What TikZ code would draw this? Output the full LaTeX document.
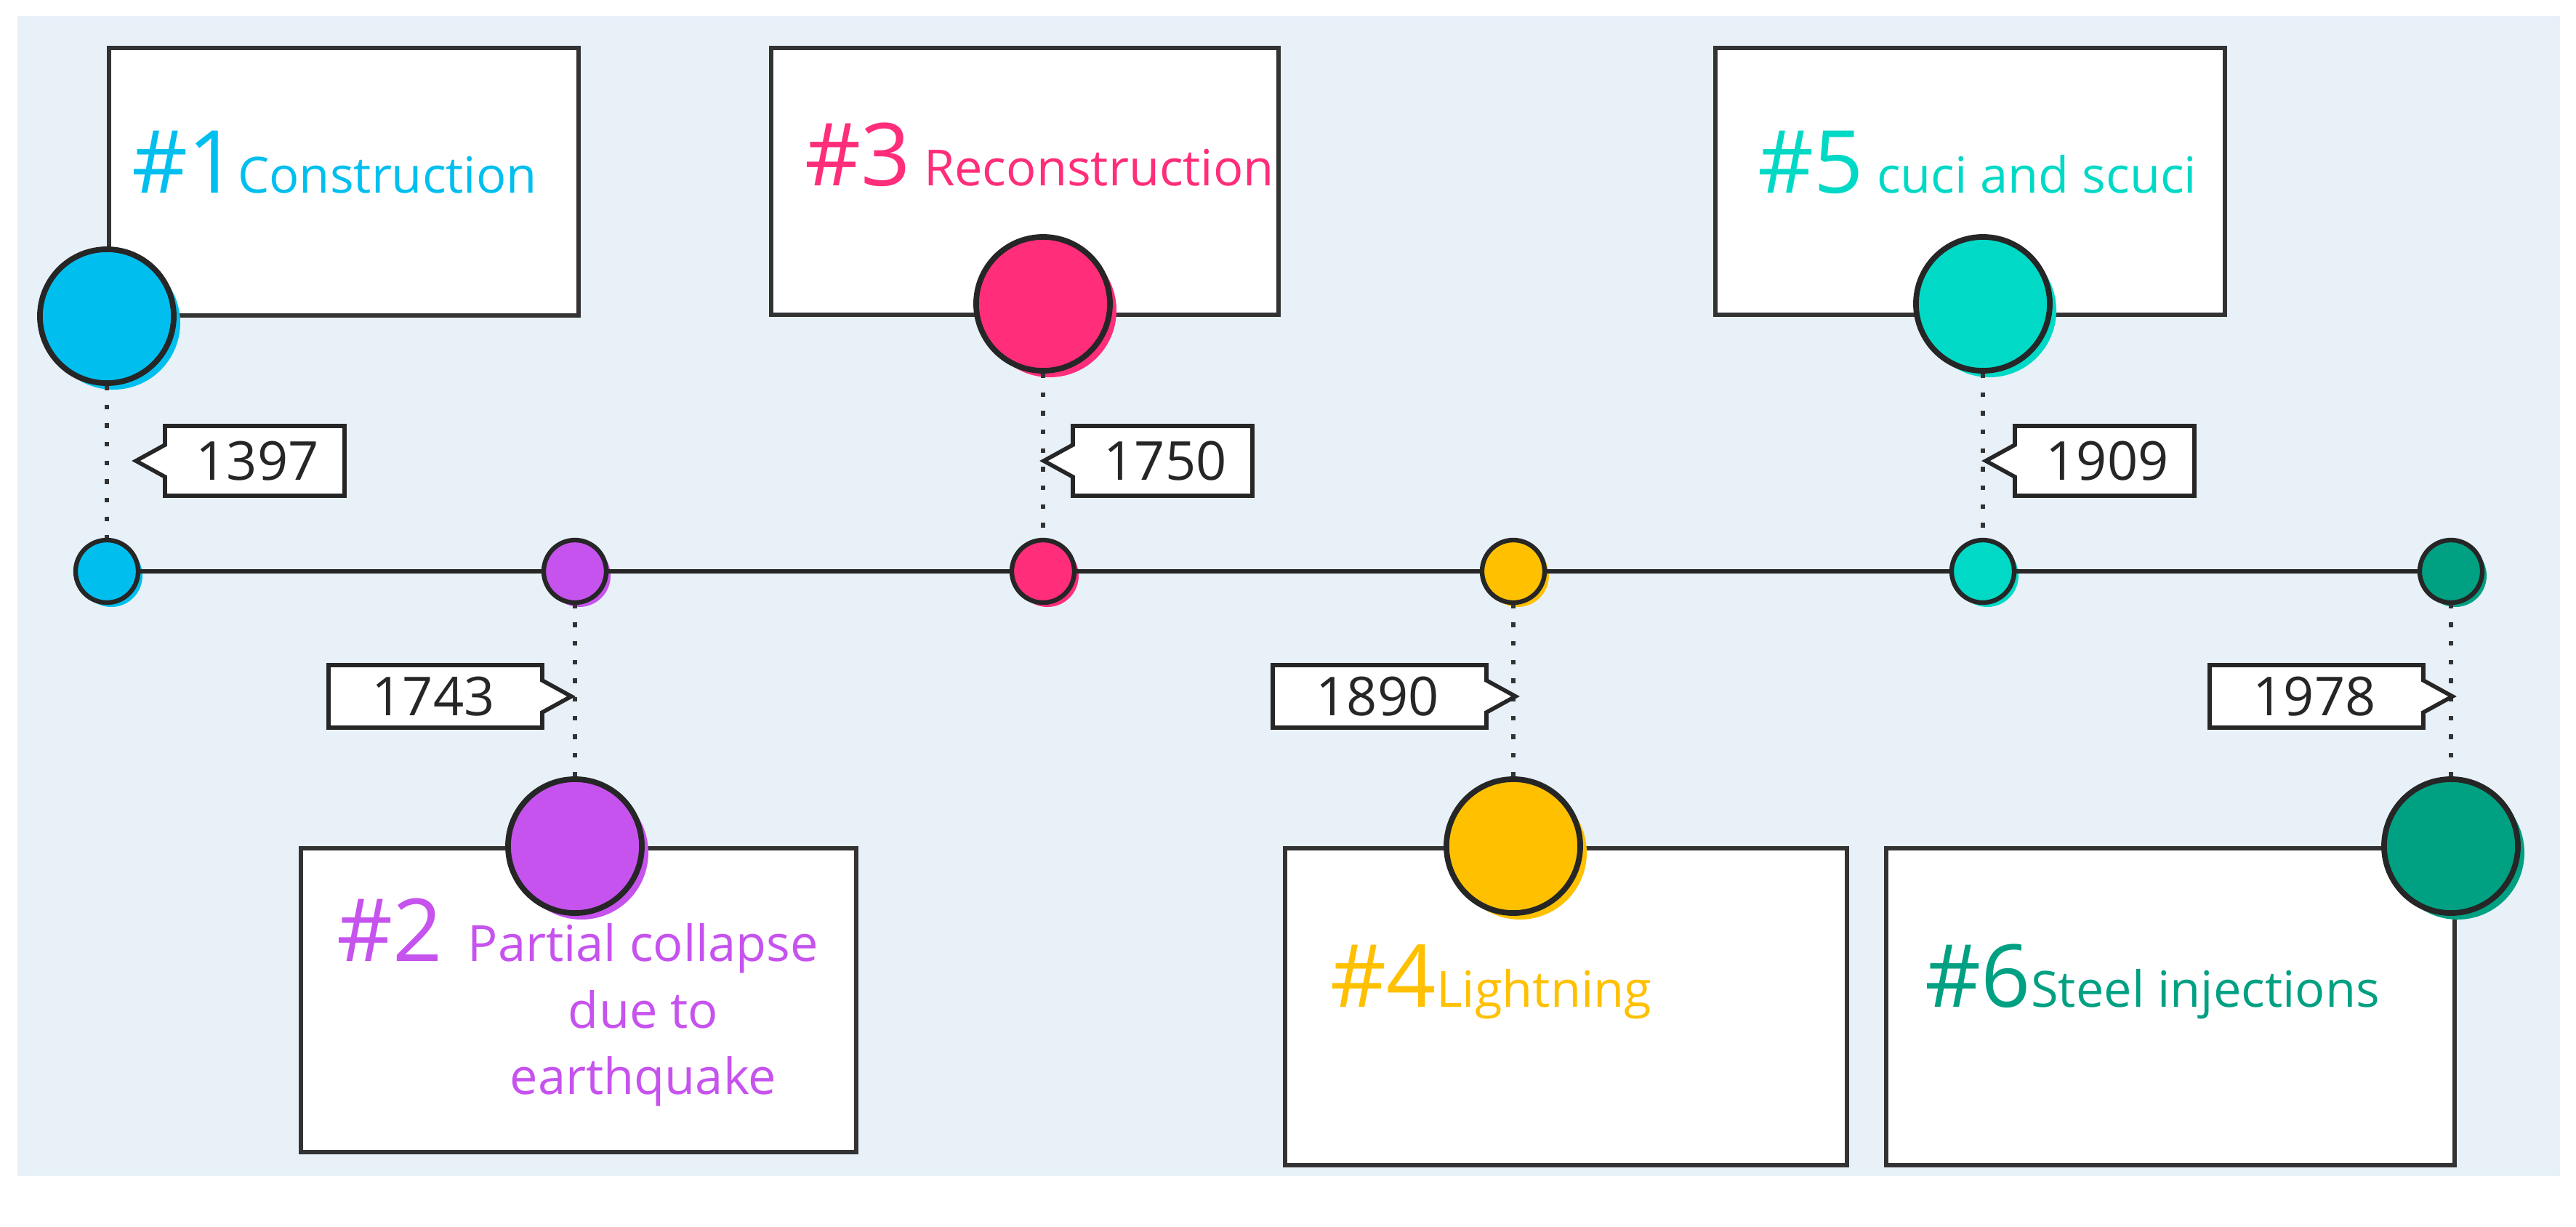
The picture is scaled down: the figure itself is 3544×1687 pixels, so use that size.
\documentclass[tikz,border=0pt]{standalone}
\usepackage{fontspec}
\setmainfont{Open Sans}
\begin{document}
\begin{tikzpicture}[x=0.01cm,y=-0.01cm,
  box/.style={draw=black!80,line width=1.8pt,fill=white,anchor=north west,inner sep=0pt},
  big/.style={circle,draw=black!85,line width=2.2pt,minimum size=1.84cm,inner sep=0pt},
  small/.style={circle,draw=black!85,line width=1.8pt,minimum size=0.86cm,inner sep=0pt},
  dotl/.style={draw=black!80,line width=1.8pt,dash pattern=on 1.8pt off 5.5pt},
  tag/.style={draw=black!85,line width=1.6pt,fill=white},
  yr/.style={font=\fontsize{21}{21}\selectfont,text=black!85},
  ht/.style={font=\fontsize{19.5}{26}\selectfont}]
\definecolor{c1}{HTML}{00BFEF}
\definecolor{c2}{HTML}{C653EE}
\definecolor{c3}{HTML}{FF2D7A}
\definecolor{c4}{HTML}{FFC000}
\definecolor{c5}{HTML}{00D9C6}
\definecolor{c6}{HTML}{00A082}
\newcommand{\hnum}[1]{{\fontsize{34}{34}\selectfont\##1}}
\newcommand{\htxt}[1]{{\fontsize{19.5}{19.5}\selectfont #1}}
\useasboundingbox (0,0) rectangle (3544,1687);
\fill[white] (0,0) rectangle (3544,1687);
\fill[fill={rgb,255:red,232;green,241;blue,248}] (24,22) rectangle (3522,1618);
% boxes
\node[box,minimum width=646*0.01cm,minimum height=368*0.01cm] (b1) at (147,63) {};
\node[box,minimum width=698*0.01cm,minimum height=367*0.01cm] (b3) at (1058,63) {};
\node[box,minimum width=701*0.01cm,minimum height=367*0.01cm] (b5) at (2357,63) {};
\node[box,minimum width=764*0.01cm,minimum height=418*0.01cm] (b2) at (411,1164) {};
\node[box,minimum width=773*0.01cm,minimum height=436*0.01cm] (b4) at (1765,1164) {};
\node[box,minimum width=782*0.01cm,minimum height=436*0.01cm] (b6) at (2592,1164) {};
% box texts
\node[anchor=base west,inner sep=0pt,text=c1] (t1) at (181,265) {\hnum{1}\htxt{Construction}};
\node[anchor=base west,inner sep=0pt,text=c3] (t3) at (1107,255) {\hnum{3}\htxt{\ Reconstruction}};
\node[anchor=base west,inner sep=0pt,text=c5] (t5) at (2418,265) {\hnum{5}\htxt{\ cuci and scuci}};
\node[anchor=base west,inner sep=0pt,text=c2] (t2) at (463,1322) {\hnum{2}};
\node[anchor=north,inner sep=0pt,text=c2,align=center,ht] (t2b) at (885,1270) {Partial collapse\\due to\\earthquake};
\node[anchor=base west,inner sep=0pt,text=c4] (t4) at (1830,1385) {\hnum{4}\htxt{Lightning}};
\node[anchor=base west,inner sep=0pt,text=c6] (t6) at (2648,1385) {\hnum{6}\htxt{Steel injections}};
% circles: shadows
\foreach \x/\y/\c in {147/435/c1,791/1164/c2,1435/418/c3,2082/1164/c4,2728/418/c5,3372/1164/c6}
  \fill[\c] (\x+9,\y+9) circle (92);
\foreach \x/\c in {147/c1,791/c2,1435/c3,2082/c4,2728/c5,3372/c6}
  \fill[\c] (\x+6,786+6) circle (43);
\node[big,fill=c1] (B1) at (147,435) {};
\node[big,fill=c2] (B2) at (791,1164) {};
\node[big,fill=c3] (B3) at (1435,418) {};
\node[big,fill=c4] (B4) at (2082,1164) {};
\node[big,fill=c5] (B5) at (2728,418) {};
\node[big,fill=c6] (B6) at (3372,1164) {};
\node[small,fill=c1] (S1) at (147,786) {};
\node[small,fill=c2] (S2) at (791,786) {};
\node[small,fill=c3] (S3) at (1435,786) {};
\node[small,fill=c4] (S4) at (2082,786) {};
\node[small,fill=c5] (S5) at (2728,786) {};
\node[small,fill=c6] (S6) at (3372,786) {};
% timeline
\draw[black!85,line width=1.8pt] (S1)--(S2) (S2)--(S3) (S3)--(S4) (S4)--(S5) (S5)--(S6);
% dotted
\foreach \i in {1,...,6} \draw[dotl] (B\i)--(S\i);
% tags
\foreach \x/\t/\n in {227/1397/y1,1476/1750/y3,2772/1909/y5}{
  \draw[tag] (\x,586)--(\x+247,586)--(\x+247,682)--(\x,682)--(\x,656)--(\x-40,634)--(\x,612)--cycle;
  \node[yr,anchor=center] (\n) at (\x+127,634) {\t};}
\foreach \x/\t/\n in {746/1743/y2,2045/1890/y4,3334/1978/y6}{
  \draw[tag] (\x,915)--(\x-294,915)--(\x-294,1001)--(\x,1001)--(\x,980)--(\x+40,958)--(\x,936)--cycle;
  \node[yr,anchor=center] (\n) at (\x-150,958) {\t};}
\end{tikzpicture}
\end{document}
